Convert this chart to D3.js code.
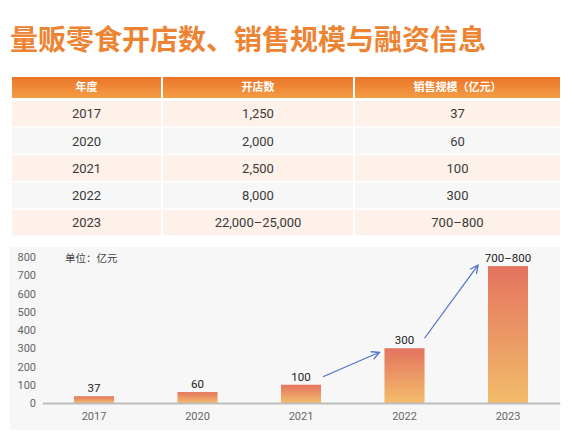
<!DOCTYPE html>
<html><head><meta charset="utf-8">
<script src="https://cdn.jsdelivr.net/npm/d3@7"></script>
<style>
html,body{margin:0;padding:0;background:#fff;}
svg{display:block;font-family:"Noto Sans CJK SC","Noto Sans",sans-serif;}
</style></head>
<body>
<svg id="c" width="574" height="440"></svg>
<script>
const title = "量贩零食开店数、销售规模与融资信息";
const tableHeaders = ["年度", "开店数", "销售规模（亿元）"];
const years = ["2017", "2020", "2021", "2022", "2023"];
const storeCounts = ["1,250", "2,000", "2,500", "8,000", "22,000–25,000"];
const salesLabels = ["37", "60", "100", "300", "700–800"];
const salesValues = [37, 60, 100, 300, 750];
const yTicks = [0, 100, 200, 300, 400, 500, 600, 700, 800];
const unitLabel = "单位：亿元";

const svg = d3.select("#c");
const defs = svg.append("defs");
const hg = defs.append("linearGradient").attr("id","hdr").attr("x1",0).attr("y1",0).attr("x2",0).attr("y2",1);
hg.append("stop").attr("offset","0%").attr("stop-color","#EB7529");
hg.append("stop").attr("offset","100%").attr("stop-color","#F39C44");
const bg = defs.append("linearGradient").attr("id","bar").attr("x1",0).attr("y1",0).attr("x2",0).attr("y2",1);
bg.append("stop").attr("offset","0%").attr("stop-color","#E4735F");
bg.append("stop").attr("offset","100%").attr("stop-color","#F2BC6A");
const mk = defs.append("marker").attr("id","arr").attr("viewBox","0 0 10 10").attr("refX",9).attr("refY",5)
  .attr("markerWidth",10).attr("markerHeight",10).attr("markerUnits","userSpaceOnUse").attr("orient","auto");
mk.append("path").attr("d","M1,1 L9,5 L1,9").attr("fill","none").attr("stroke","#4E72C8").attr("stroke-width",1.3);

// Title
svg.append("text").attr("x",10).attr("y",50).attr("font-size",28).attr("font-weight","bold")
  .attr("fill","#EC8433").text(title);

// Table
const colX = [12, 163, 355], colW = [149, 190, 205];
const hdrY = 77, hdrH = 21;
tableHeaders.forEach((h,i)=>{
  svg.append("rect").attr("x",colX[i]).attr("y",hdrY).attr("width",colW[i]).attr("height",hdrH).attr("fill","url(#hdr)");
  svg.append("text").attr("x",colX[i]+colW[i]/2).attr("y",hdrY+hdrH/2).attr("dy","0.36em")
    .attr("text-anchor","middle").attr("font-size",11).attr("font-weight","bold").attr("fill","#fff").text(h);
});
const rowY0 = 101, rowStep = 27.2, rowH = 25.5;
years.forEach((y,r)=>{
  const vals = [y, storeCounts[r], salesLabels[r]];
  const fill = r%2===0 ? "#FDF1E9" : "#F7F7F7";
  vals.forEach((v,i)=>{
    const ry = rowY0 + r*rowStep;
    svg.append("rect").attr("x",colX[i]).attr("y",ry).attr("width",colW[i]).attr("height",rowH).attr("fill",fill);
    svg.append("text").attr("x",colX[i]+colW[i]/2).attr("y",ry+rowH/2).attr("dy","0.36em")
      .attr("text-anchor","middle").attr("font-size",13).attr("fill","#3a3a3a")
      .attr("font-family","Roboto, 'Noto Sans', sans-serif").text(v);
  });
});

// Chart panel
svg.append("rect").attr("x",10).attr("y",247).attr("width",550).attr("height",183).attr("fill","#F7F7F7");

const x = d3.scaleBand().domain(years).range([42.25, 559.75]).paddingInner(0.613).paddingOuter(0.3065);
const yS = d3.scaleLinear().domain([0,800]).range([403, 257]);

const yAxis = svg.append("g").attr("transform","translate(36,0)")
  .call(d3.axisLeft(yS).tickValues(yTicks).tickSize(0).tickPadding(0));
yAxis.select(".domain").remove();
yAxis.selectAll("text").attr("font-size",11).attr("fill","#666").attr("font-family","Roboto, 'Noto Sans', sans-serif");

svg.append("text").attr("x",65).attr("y",258).attr("dy","0.36em").attr("font-size",10.5).attr("fill","#444").text(unitLabel);

svg.selectAll("rect.bar").data(salesValues).join("rect").attr("class","bar")
  .attr("x",(d,i)=>x(years[i])).attr("width",x.bandwidth())
  .attr("y",d=>yS(d)).attr("height",d=>yS(0)-yS(d)).attr("fill","url(#bar)");

svg.selectAll("text.vl").data(salesValues).join("text").attr("class","vl")
  .attr("x",(d,i)=>x(years[i])+x.bandwidth()/2).attr("y",d=>yS(d)-4)
  .attr("text-anchor","middle").attr("font-size",11.5).attr("fill","#222")
  .attr("font-family","Roboto, 'Noto Sans', sans-serif").text((d,i)=>salesLabels[i]);

const xAxis = svg.append("g").attr("transform",`translate(0,${yS(0)})`)
  .call(d3.axisBottom(x).tickSize(0).tickPadding(9));
xAxis.select(".domain").attr("stroke","#BDBDBD").attr("stroke-width",2);
xAxis.selectAll("text").attr("font-size",11).attr("fill","#666").attr("font-family","Roboto, 'Noto Sans', sans-serif");

// Arrows
const bw = x.bandwidth();
const arrows = [
  [x("2021")+bw+2, yS(100)-8, x("2022")-5, yS(300)+4],
  [x("2022")+bw, yS(300)-10, x("2023")-10, yS(750)-1]
];
arrows.forEach(a=>{
  svg.append("line").attr("x1",a[0]).attr("y1",a[1]).attr("x2",a[2]).attr("y2",a[3])
    .attr("stroke","#4E72C8").attr("stroke-width",1.2).attr("marker-end","url(#arr)");
});
</script>
</body></html>
